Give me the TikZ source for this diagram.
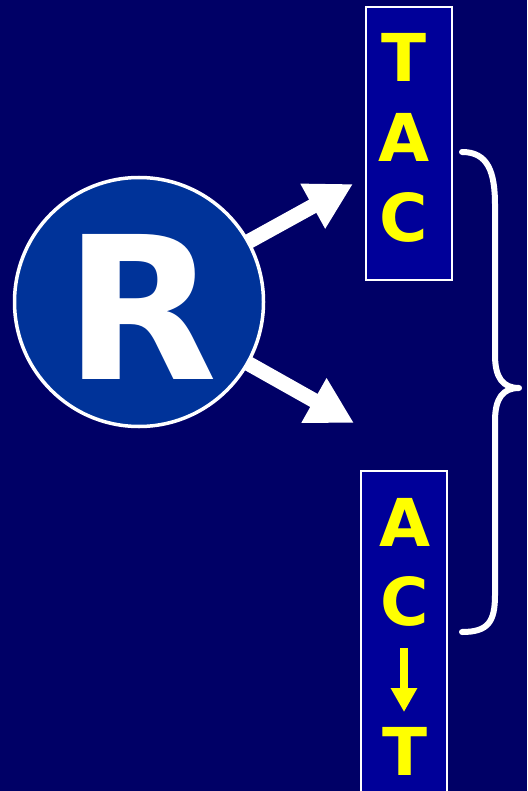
\documentclass[tikz,border=0pt]{standalone}
\usepackage{fontspec}
\setmainfont{DejaVu Sans}
\usetikzlibrary{arrows.meta}
\definecolor{bgnavy}{HTML}{000066}
\definecolor{boxblue}{HTML}{000099}
\definecolor{circblue}{HTML}{003399}
\definecolor{letteryellow}{HTML}{FFFF00}
\tikzset{
  seqbox/.style={draw=white, line width=2pt, fill=boxblue, inner sep=0pt},
  base/.style={text=letteryellow, inner sep=0pt, font=\bfseries\fontsize{66}{66}\selectfont},
  bigarrow/.style={white, line width=15pt, -{Triangle[length=46pt,width=48pt]}},
  smallarrow/.style={letteryellow, line width=8pt, -{Triangle[length=24pt,width=25pt]}},
  bracestyle/.style={white, line width=6pt, line cap=round, line join=round}
}
\begin{document}
\begin{tikzpicture}[x=1pt,y=-1pt]
\fill[bgnavy] (0,0) rectangle (527,791);
\useasboundingbox (0,0) rectangle (527,791);
\clip (0,0) rectangle (527,791);
% boxes
\node[seqbox, minimum width=86pt, minimum height=273pt] (topbox) at (408.5,143.5) {};
\node[seqbox, minimum width=86pt, minimum height=340pt] (botbox) at (403.5,641) {};
% top letters
\node[base] (t1) at (404,57) {T};
\node[base] (a1) at (404,137) {A};
\node[base] (c1) at (404,217) {C};
% bottom letters
\node[base] (a2) at (405,522) {A};
\node[base] (c2) at (405,601) {C};
\coordinate (arrtop) at (404,648);
\coordinate (arrtip) at (404,712);
\draw[smallarrow] (arrtop) -- (arrtip);
\node[base] (t2) at (405,751) {T};
% arrows from circle
\coordinate (R0) at (139,302);
\coordinate (tipup) at (353,184);
\coordinate (tipdown) at (354,423);
\draw[bigarrow] (R0) -- (tipup);
\draw[bigarrow] (R0) -- (tipdown);
% circle
\node[circle, draw=white, line width=3.5pt, fill=circblue, minimum size=249pt, inner sep=0pt] (circ) at (139,302) {};
\node[text=white, inner sep=0pt, font=\bfseries\fontsize{199}{199}\selectfont] (R) at (141,307) {R};
% brace
\coordinate (b1) at (462,152);
\coordinate (b2) at (519,388);
\coordinate (b3) at (462,632);
\draw[bracestyle] (b1) .. controls (488,152) and (495,172) .. (495,205)
  -- (495,355) .. controls (495,378) and (503,388) .. (b2)
  .. controls (503,388) and (495,398) .. (495,421)
  -- (495,595) .. controls (495,622) and (488,632) .. (b3);
\end{tikzpicture}
\end{document}
